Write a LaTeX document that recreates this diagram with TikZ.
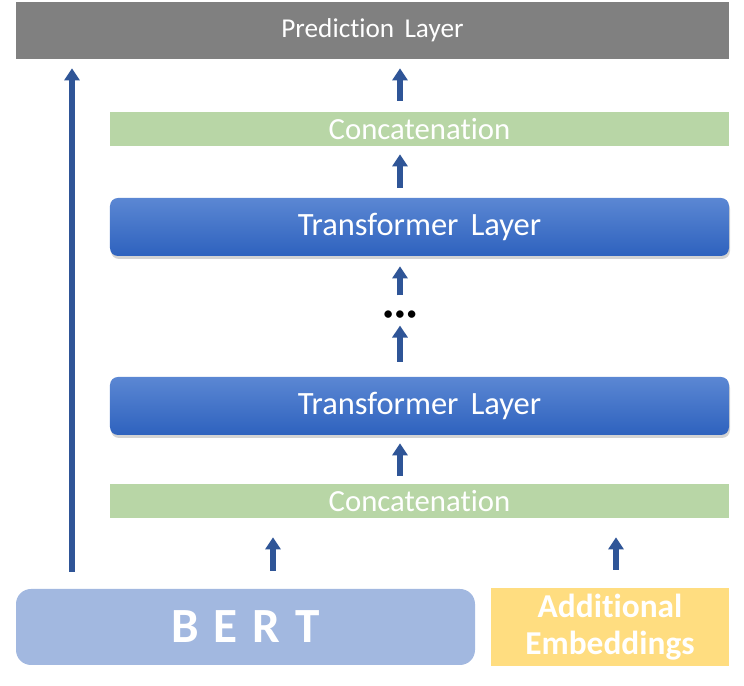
\documentclass[tikz,border=0pt]{standalone}
\usepackage{fontspec}
\setmainfont{Carlito}[Ligatures=NoCommon]
\usetikzlibrary{arrows.meta,shadows}
\definecolor{predgray}{HTML}{808080}
\definecolor{concatgreen}{HTML}{B8D6A6}
\definecolor{transtop}{HTML}{5B87D3}
\definecolor{transbot}{HTML}{2E62BE}
\definecolor{bertblue}{HTML}{A2B8E0}
\definecolor{embyellow}{HTML}{FFDD80}
\definecolor{arrowblue}{HTML}{2F5597}
\begin{document}
\begin{tikzpicture}
        [pred/.style={rectangle, fill=predgray, text=white, minimum width=14.26cm, minimum height=1.14cm, font=\fontsize{15.5}{17}\selectfont},
        concat/.style={rectangle, fill=concatgreen, text=white, minimum width=12.38cm, minimum height=0.68cm, font=\fontsize{17.5}{19}\selectfont},
        trans/.style={rectangle, rounded corners=0.16cm, top color=transtop, bottom color=transbot, text=white, minimum width=12.38cm, minimum height=1.16cm, font=\fontsize{18.5}{20}\selectfont, drop shadow={opacity=0.35, shadow xshift=0.02cm, shadow yshift=-0.06cm}},
        input/.style={rectangle, text=white, minimum height=1.52cm, font=\bfseries},
        arr/.style={arrowblue, line width=0.12cm, -{Triangle[width=0.3cm, length=0.24cm]}}]
        \useasboundingbox (0,0) rectangle (14.88,-13.72);
        \node[pred] (P) at (7.45,-0.61) {Prediction\hspace{0.15em} Layer};
        \node[concat] (CT) at (8.39,-2.58) {Concatenation};
        \node[trans] (TT) at (8.39,-4.54) {Transformer\hspace{0.15em} Layer};
        \node (D) at (8.0,-6.3) {\textbf{\textbullet\,\textbullet\,\textbullet}};
        \node[trans] (TB) at (8.39,-8.12) {Transformer\hspace{0.15em} Layer};
        \node[concat] (CB) at (8.39,-10.02) {Concatenation};
        \node[input, fill=bertblue, rounded corners=0.3cm, minimum width=9.18cm, font=\bfseries\fontsize{28}{30}\selectfont] (B) at (4.91,-12.54) {B\hspace{0.3em}E\hspace{0.3em}R\hspace{0.3em}T};
        \node[input, fill=embyellow, minimum width=4.76cm, align=center, font=\bfseries\fontsize{19}{21}\selectfont] (A) at (12.2,-12.54) {Additional\\Embeddings};
        \coordinate (S) at (1.44,0);
        \coordinate (IB) at (5.46,0);
        \coordinate (IA) at (12.32,0);
        
        \draw[arr, shorten <=0.34cm, shorten >=0.18cm] (B.north -| S) -- (P.south -| S);
        \draw[arr, shorten <=0.22cm, shorten >=0.18cm] (CT.north -| D) -- (P.south -| D);
        \draw[arr, shorten <=0.2cm, shorten >=0.16cm] (TT.north -| D) -- (CT.south -| D);
        \draw[arr, shorten <=0.18cm, shorten >=0.2cm] (D) -- (TT.south -| D);
        \draw[arr, shorten <=0.3cm] (TB.north -| D) -- (D);
        \draw[arr, shorten <=0.16cm, shorten >=0.16cm] (CB.north -| D) -- (TB.south -| D);
        \draw[arr, shorten <=0.36cm, shorten >=0.38cm] (B.north -| IB) -- (CB.south -| IB);
        \draw[arr, shorten <=0.36cm, shorten >=0.38cm] (A.north -| IA) -- (CB.south -| IA);
    
    \end{tikzpicture}
\end{document}
